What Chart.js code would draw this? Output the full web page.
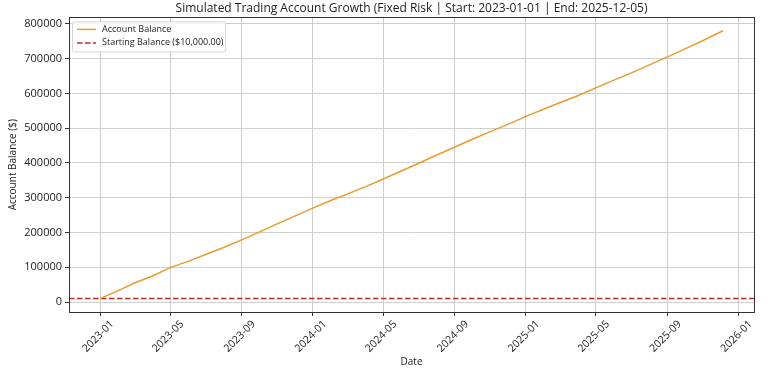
<!DOCTYPE html>
<html>
<head>
<meta charset="utf-8">
<script src="https://cdn.jsdelivr.net/npm/chart.js@4.4.1/dist/chart.umd.min.js"></script>
<style>
  html, body { margin: 0; padding: 0; background: #fff; }
  #wrap { width: 768px; height: 371px; }
</style>
</head>
<body>
<div id="wrap"><canvas id="balanceChart" width="768" height="371"></canvas></div>
<script>
// Данные графика
const startDate = "2023-01-01";
const endDate = "2025-12-05";
const startingBalance = 10000;

const balanceDates = [
  "2023-01-01", "2023-02-01", "2023-03-01", "2023-04-01", "2023-05-01", "2023-06-01",
  "2023-07-01", "2023-08-01", "2023-09-01", "2023-10-01", "2023-11-01", "2023-12-01",
  "2024-01-01", "2024-02-01", "2024-03-01", "2024-04-01", "2024-05-01", "2024-06-01",
  "2024-07-01", "2024-08-01", "2024-09-01", "2024-10-01", "2024-11-01", "2024-12-01",
  "2025-01-01", "2025-02-01", "2025-03-01", "2025-04-01", "2025-05-01", "2025-06-01",
  "2025-07-01", "2025-08-01", "2025-09-01", "2025-10-01", "2025-11-01", "2025-12-05"
];
const balanceValues = [
  10000, 33000, 55000, 75000, 99000, 117000,
  137000, 157000, 179000, 201000, 225000, 247000,
  270000, 292000, 311000, 332000, 354000, 377000,
  399000, 423000, 446000, 468000, 490000, 511000,
  534000, 555000, 574000, 594000, 616000, 638000,
  659000, 682000, 705000, 728000, 752000, 780000
];

const xTickLabels = ["2023-01", "2023-05", "2023-09", "2024-01", "2024-05", "2024-09",
                     "2025-01", "2025-05", "2025-09", "2026-01"];
const yTicks = [0, 100000, 200000, 300000, 400000, 500000, 600000, 700000, 800000];

// дни от начала периода
function dayNum(s) {
  const p = s.split("-").map(Number);
  const b = startDate.split("-").map(Number);
  return (Date.UTC(p[0], p[1] - 1, p[2] || 1) - Date.UTC(b[0], b[1] - 1, b[2])) / 86400000;
}
function fmtDay(d) {
  const t = new Date(Date.UTC(2023, 0, 1) + Math.round(d) * 86400000);
  return t.getUTCFullYear() + "-" + String(t.getUTCMonth() + 1).padStart(2, "0");
}

const lastDay = dayNum(endDate);
const xPad = lastDay * 0.05;
const xMin = -xPad, xMax = lastDay + xPad;
const yLo = Math.min(...balanceValues), yHi = Math.max(...balanceValues);
const yMin = yLo - (yHi - yLo) * 0.05, yMax = yHi + (yHi - yLo) * 0.05;

const FONT = "'Open Sans', 'DejaVu Sans', sans-serif";
const TXT = "#222";

// рамка вокруг области графика
const frame = {
  id: "frame",
  afterDatasetsDraw(chart) {
    const a = chart.chartArea, c = chart.ctx;
    c.save();
    c.strokeStyle = "#333";
    c.lineWidth = 1;
    c.strokeRect(Math.round(a.left) + 0.5, Math.round(a.top) + 0.5,
                 Math.round(a.right - a.left), Math.round(a.bottom - a.top));
    c.restore();
  }
};

// легенда внутри области графика (верхний левый угол)
const innerLegend = {
  id: "innerLegend",
  afterDraw(chart) {
    const a = chart.chartArea, c = chart.ctx;
    const x = a.left + 3, y = a.top + 4, w = 153, h = 30;
    c.save();
    c.fillStyle = "rgba(255,255,255,0.85)";
    c.strokeStyle = "#d6d6d6";
    c.lineWidth = 1;
    c.beginPath();
    c.roundRect(x + 0.5, y + 0.5, w, h, 2);
    c.fill();
    c.stroke();
    c.font = "9px " + FONT;
    c.textBaseline = "middle";
    chart.data.datasets.forEach((ds, i) => {
      const yy = y + 8 + i * 13.5;
      c.strokeStyle = ds.borderColor;
      c.lineWidth = 1.5;
      c.setLineDash(ds.borderDash || []);
      c.beginPath();
      c.moveTo(x + 5, yy);
      c.lineTo(x + 24, yy);
      c.stroke();
      c.setLineDash([]);
      c.fillStyle = TXT;
      c.fillText(ds.label, x + 30, yy);
    });
    c.restore();
  }
};

const ctx = document.getElementById("balanceChart").getContext("2d");
new Chart(ctx, {
  type: "line",
  data: {
    datasets: [
      {
        label: "Account Balance",
        data: balanceDates.map((d, i) => ({ x: dayNum(d), y: balanceValues[i] })),
        borderColor: "#E89C2E",
        borderWidth: 1.5,
        pointRadius: 0,
        tension: 0
      },
      {
        label: "Starting Balance ($" + startingBalance.toLocaleString("en-US") + ".00)",
        data: [{ x: xMin, y: startingBalance }, { x: xMax, y: startingBalance }],
        borderColor: "#C62828",
        borderWidth: 1.5,
        borderDash: [5.5, 2.5],
        pointRadius: 0,
        tension: 0
      }
    ]
  },
  options: {
    responsive: false,
    animation: false,
    layout: { padding: { right: 14 } },
    plugins: {
      legend: { display: false },
      tooltip: { enabled: false },
      title: {
        display: true,
        fullSize: false,
        text: "Simulated Trading Account Growth (Fixed Risk | Start: " + startDate + " | End: " + endDate + ")",
        color: TXT,
        font: { family: FONT, size: 12, weight: "normal" },
        padding: { top: 1, bottom: 2 }
      }
    },
    scales: {
      x: {
        type: "linear",
        min: xMin,
        max: xMax,
        afterBuildTicks: s => { s.ticks = xTickLabels.map(l => ({ value: dayNum(l + "-01") })); },
        afterFit: s => { s.height = 59; },
        grid: { color: "#cfcfcf", tickColor: "#333", tickLength: 4 },
        border: { display: false },
        ticks: {
          callback: v => fmtDay(v),
          minRotation: 45, maxRotation: 45,
          autoSkip: false,
          padding: 2,
          labelOffset: 12,
          color: TXT,
          font: { family: FONT, size: 10.5 }
        },
        title: { display: true, text: "Date", color: TXT, font: { family: FONT, size: 10 }, padding: { top: 0, bottom: 3 } }
      },
      y: {
        min: yMin,
        max: yMax,
        afterBuildTicks: s => { s.ticks = yTicks.map(v => ({ value: v })); },
        afterFit: s => { s.width = 69; },
        grid: { color: "#cfcfcf", tickColor: "#333", tickLength: 4 },
        border: { display: false },
        ticks: {
          callback: v => String(v),
          padding: 3,
          color: TXT,
          font: { family: FONT, size: 11 }
        },
        title: { display: true, text: "Account Balance ($)", color: TXT, font: { family: FONT, size: 10 }, padding: { top: 7, bottom: 0 } }
      }
    }
  },
  plugins: [frame, innerLegend]
});
</script>
</body>
</html>
